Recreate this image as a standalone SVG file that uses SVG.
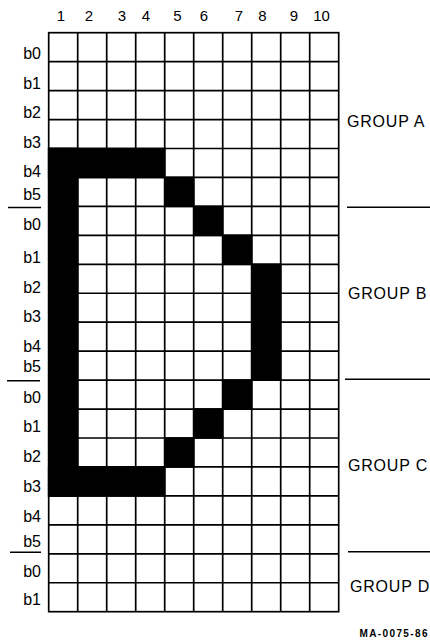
<svg xmlns="http://www.w3.org/2000/svg" width="430" height="640" viewBox="0 0 430 640">
<style>
.t{font-family:"Liberation Sans",Arial,sans-serif;font-size:15px;fill:#000}
.r{text-anchor:end;font-size:16px}
.c{text-anchor:middle}
.g{font-family:"Liberation Sans",Arial,sans-serif;font-size:16px;letter-spacing:0.8px;fill:#000}
.grid{stroke:#000;stroke-width:1.7;fill:none}
.sep{stroke:#000;stroke-width:1.5}
.blk{fill:#000}
</style>
<rect width="430" height="640" fill="#fff"/>
<g id="column-labels" class="t c">
<text x="61" y="21">1</text>
<text x="89" y="21">2</text>
<text x="122" y="21">3</text>
<text x="146" y="21">4</text>
<text x="177.5" y="21">5</text>
<text x="204" y="21">6</text>
<text x="239" y="21">7</text>
<text x="262.5" y="21">8</text>
<text x="294" y="21">9</text>
<text x="321.5" y="21">10</text>
</g>
<g id="row-labels" class="t r">
<text x="41" y="59">b0</text>
<text x="41" y="89">b1</text>
<text x="41" y="118">b2</text>
<text x="41" y="148">b3</text>
<text x="41" y="177">b4</text>
<text x="41" y="200">b5</text>
<text x="41" y="230">b0</text>
<text x="41" y="263">b1</text>
<text x="41" y="293">b2</text>
<text x="41" y="322">b3</text>
<text x="41" y="352">b4</text>
<text x="41" y="372">b5</text>
<text x="41" y="403">b0</text>
<text x="41" y="432">b1</text>
<text x="41" y="462">b2</text>
<text x="41" y="492">b3</text>
<text x="41" y="522">b4</text>
<text x="41" y="547">b5</text>
<text x="41" y="577">b0</text>
<text x="41" y="605">b1</text>
</g>
<g id="grid" class="grid">
<rect x="48.7" y="32.7" width="290" height="579"/>
<path d="M77.7 32.7V611.7M106.7 32.7V611.7M135.7 32.7V611.7M164.7 32.7V611.7M193.7 32.7V611.7M222.7 32.7V611.7M251.7 32.7V611.7M280.7 32.7V611.7M309.7 32.7V611.7"/>
<path d="M48.7 61.65H338.7M48.7 90.6H338.7M48.7 119.55H338.7M48.7 148.5H338.7M48.7 177.45H338.7M48.7 206.4H338.7M48.7 235.35H338.7M48.7 264.3H338.7M48.7 293.25H338.7M48.7 322.2H338.7M48.7 351.15H338.7M48.7 380.1H338.7M48.7 409.05H338.7M48.7 438H338.7M48.7 466.95H338.7M48.7 495.9H338.7M48.7 524.85H338.7M48.7 553.8H338.7M48.7 582.75H338.7"/>
</g>
<g id="character" class="blk">
<rect x="47.9" y="147.7" width="117.6" height="30.6"/>
<rect x="47.9" y="147.7" width="30.6" height="349"/>
<rect x="47.9" y="466.1" width="117.6" height="30.6"/>
<rect x="163.9" y="176.6" width="30.6" height="30.6"/>
<rect x="192.9" y="205.6" width="30.6" height="30.6"/>
<rect x="221.9" y="234.5" width="30.6" height="30.6"/>
<rect x="250.9" y="263.5" width="30.6" height="117.4"/>
<rect x="221.9" y="379.3" width="30.6" height="30.6"/>
<rect x="192.9" y="408.2" width="30.6" height="30.6"/>
<rect x="163.9" y="437.2" width="30.6" height="30.6"/>
</g>
<g id="separators" class="sep">
<path d="M8 207.5H41M7 380.7H40M10 552.3H41"/>
<path d="M347 207.3H430M345 379.3H430M348 551.7H430"/>
</g>
<g id="group-labels" class="g">
<text x="347" y="127">GROUP A</text>
<text x="348" y="299">GROUP B</text>
<text x="348" y="471">GROUP C</text>
<text x="350" y="592">GROUP D</text>
</g>
<text id="ref" x="429" y="637" text-anchor="end" style="font-family:'Liberation Sans',Arial,sans-serif;font-size:10px;font-weight:bold;letter-spacing:1.4px;fill:#000">MA-0075-86</text>
</svg>
